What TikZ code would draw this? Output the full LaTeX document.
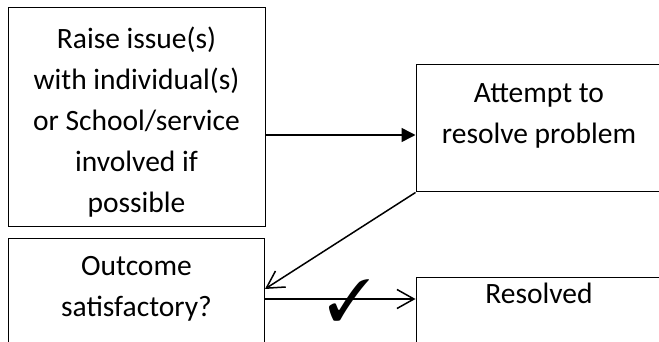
\documentclass[tikz,border=0pt]{standalone}
\usepackage{fontspec}
\setmainfont{Carlito}
\usepackage{pifont}
\usetikzlibrary{arrows.meta}

\tikzset{
    box/.style={draw=black, line width=1pt, rectangle, inner sep=0pt},
    boxtext/.style={align=center, font=\fontsize{29.5}{41}\selectfont},
    solidarrow/.style={line width=1.5pt, -{Triangle[length=14pt, width=14pt]}},
    openarrow/.style={line width=1.5pt, -{Straight Barb[length=17pt, width=19pt, line width=1.5pt]}}
}

\begin{document}
\begin{tikzpicture}[x=1pt, y=-1pt]
        \clip (0,0) rectangle (659,342);
        \fill[white] (0,0) rectangle (659,342);
        \node[box, minimum width=257pt, minimum height=218pt] (raise) at (136.5,117) {};
        \node[box, minimum width=246pt, minimum height=127pt] (attempt) at (539,128.5) {};
        \node[box, minimum width=256pt, minimum height=150pt] (outcome) at (136.5,313) {};
        \node[box, minimum width=246pt, minimum height=123pt] (resolved) at (539,338.5) {};
        \node[boxtext] (raisetext) at (136.5,122) {Raise issue(s)\\with individual(s)\\or School/service\\involved if\\possible};
        \node[boxtext] (attempttext) at (539,115.5) {Attempt to\\resolve problem};
        \node[boxtext] (outcometext) at (136.5,288.5) {Outcome\\satisfactory?};
        \node[boxtext] (resolvedtext) at (539,293) {Resolved};
        \coordinate (r1) at ([yshift=-18pt]raise.east);
        \coordinate (o1) at ([yshift=24pt]outcome.east);
        \coordinate (o2) at ([yshift=14pt]outcome.east);
        \draw[solidarrow] (r1) -- (r1 -| attempt.west);
        \draw[openarrow] (attempt.south west) -- (o1);
        \draw[openarrow] (o2) -- (o2 -| resolved.west);
        \node[font=\fontsize{58}{58}\selectfont, inner sep=0pt] (tick) at (349.5,300) {\ding{51}};
    \end{tikzpicture}
\end{document}
